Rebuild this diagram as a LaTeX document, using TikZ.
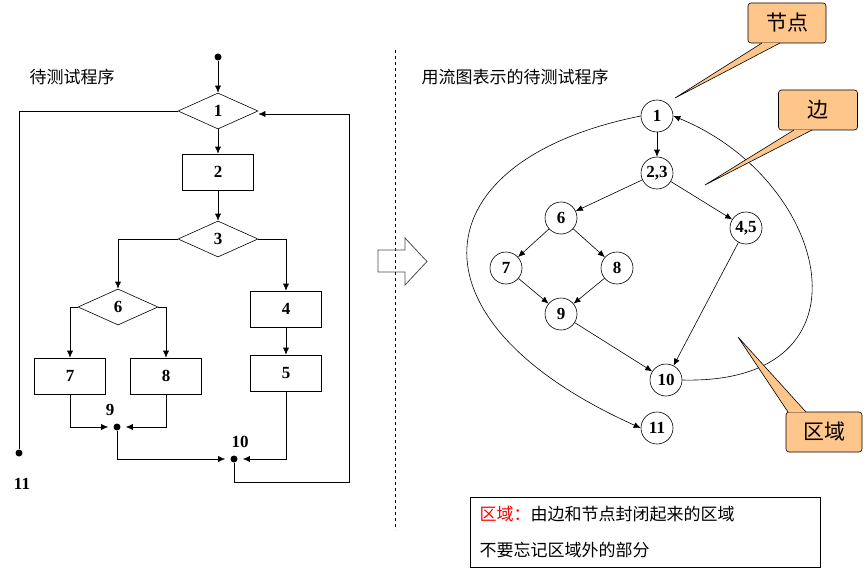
\documentclass[tikz,border=0pt]{standalone}
\usepackage{fontspec}
\setmainfont{Liberation Serif}
\newfontfamily\cjk{Noto Sans CJK SC}
\usetikzlibrary{arrows.meta,shapes.geometric}
\begin{document}
\begin{tikzpicture}[x=1pt,y=-1pt,semithick,
 every node/.style={font=\bfseries\fontsize{17}{19}\selectfont},
 dia/.style={draw,diamond,aspect=2.2,minimum width=80pt,minimum height=36pt,inner sep=0pt},
 box/.style={draw,minimum width=71pt,minimum height=36pt},
 dot/.style={circle,fill,inner sep=0pt,minimum size=7pt},
 cn/.style={draw,circle,minimum size=32pt,inner sep=0pt,fill=white},
 ar/.style={-{Latex[length=7pt,width=6pt]}},
 lbl/.style={font=\cjk\fontsize{17}{20}\selectfont},
 big/.style={font=\cjk\fontsize{21}{24}\selectfont},
 co/.style={draw,fill=orange!45!white,rounded corners=3pt}]
\useasboundingbox (0,0) rectangle (867,575);
% left flowchart
\node[dot] (s) at (218,57) {};
\node[dia] (d1) at (218,111) {1};
\node[box] (b2) at (218,172) {2};
\node[dia] (d3) at (218,239) {3};
\node[dia] (d6) at (118,307) {6};
\node[box] (b4) at (286,309) {4};
\node[box] (b5) at (286,373) {5};
\node[box] (b7) at (70,376) {7};
\node[box] (b8) at (166,376) {8};
\node[dot] (n9) at (117,427) {};
\node[dot] (n10) at (234,459) {};
\node[dot] (n11) at (19,453) {};
\node at (110,410) {9};
\node at (240,442) {10};
\node at (22,484) {11};
\node[lbl,anchor=west] (t1) at (26,77) {待测试程序};
\draw[ar] (s) -- (d1);
\draw[ar] (d1) -- (b2);
\draw[ar] (b2) -- (d3);
\draw[ar] (d3.west) -| (d6.north);
\draw[ar] (d3.east) -| (b4.north);
\draw[ar] (b4) -- (b5);
\draw[ar] (d6.west) -| (b7.north);
\draw[ar] (d6.east) -| (b8.north);
\draw (d1.west) -| (n11);
\draw[ar,shorten >=5pt] (b7.south) |- (n9);
\draw[ar,shorten >=5pt] (b8.south) |- (n9);
\draw[ar,shorten >=5pt] (n9) |- (n10);
\draw[ar,shorten >=5pt] (b5.south) |- (n10);
\coordinate (l1) at (234,482); \coordinate (l2) at (349,482); \coordinate (l3) at (349,114);
\draw[ar] (n10) -- (l1) -- (l2) -- (l3) -- (d1.east|-l3);
% divider
\draw[thin,dashed] (395,50) -- (395,530);
\draw[thick,black!70] (378,250) -- (405,250) -- (405,238) -- (427,261.5) -- (405,285) -- (405,272) -- (378,272) -- cycle;
% right flow graph
\node[lbl,anchor=west] (t2) at (418,77) {用流图表示的待测试程序};
\node[cn] (c1) at (657,116) {1};
\node[cn] (c23) at (657,173) {2,3};
\node[cn] (c6) at (561,218) {6};
\node[cn] (c45) at (746,228) {4,5};
\node[cn] (c7) at (506,268) {7};
\node[cn] (c8) at (617,268) {8};
\node[cn] (c9) at (561,314) {9};
\node[cn] (c10) at (666,380) {10};
\node[cn] (c11) at (657,428) {11};
\draw[ar] (c1) -- (c23);
\draw[ar] (c23) -- (c6);
\draw[ar] (c23) -- (c45);
\draw[ar] (c6) -- (c7);
\draw[ar] (c6) -- (c8);
\draw[ar] (c7) -- (c9);
\draw[ar] (c8) -- (c9);
\draw[ar] (c9) -- (c10);
\draw[ar] (c45) -- (c10);
\draw[ar] (c1.west) .. controls (420,160) and (400,320) .. (c11.west);
\draw[ar] (c10.east) .. controls (880,385) and (830,180) .. (c1.east);
% callouts
\node[co,big,minimum width=78pt,minimum height=40pt] (k1) at (787,23) {节点};
\node[co,big,minimum width=79pt,minimum height=40pt] (k2) at (818,110) {边};
\node[co,big,minimum width=76pt,minimum height=40pt] (k3) at (824,432) {区域};
\coordinate (p1) at (675,98); \coordinate (p2) at (705,185); \coordinate (p3) at (738,337);
\draw[fill=orange!45!white] (762,43) -- (p1) -- (780,43);
\draw[fill=orange!45!white] (794,130) -- (p2) -- (812,130);
\draw[fill=orange!45!white] (788,412) -- (p3) -- (806,412);
% bottom note
\draw (470,497) rectangle (820,567);
\node[lbl,anchor=west] (q1) at (476,514) {\textcolor{red}{区域：}由边和节点封闭起来的区域};
\node[lbl,anchor=west] (q2) at (476,550) {不要忘记区域外的部分};
\end{tikzpicture}
\end{document}
